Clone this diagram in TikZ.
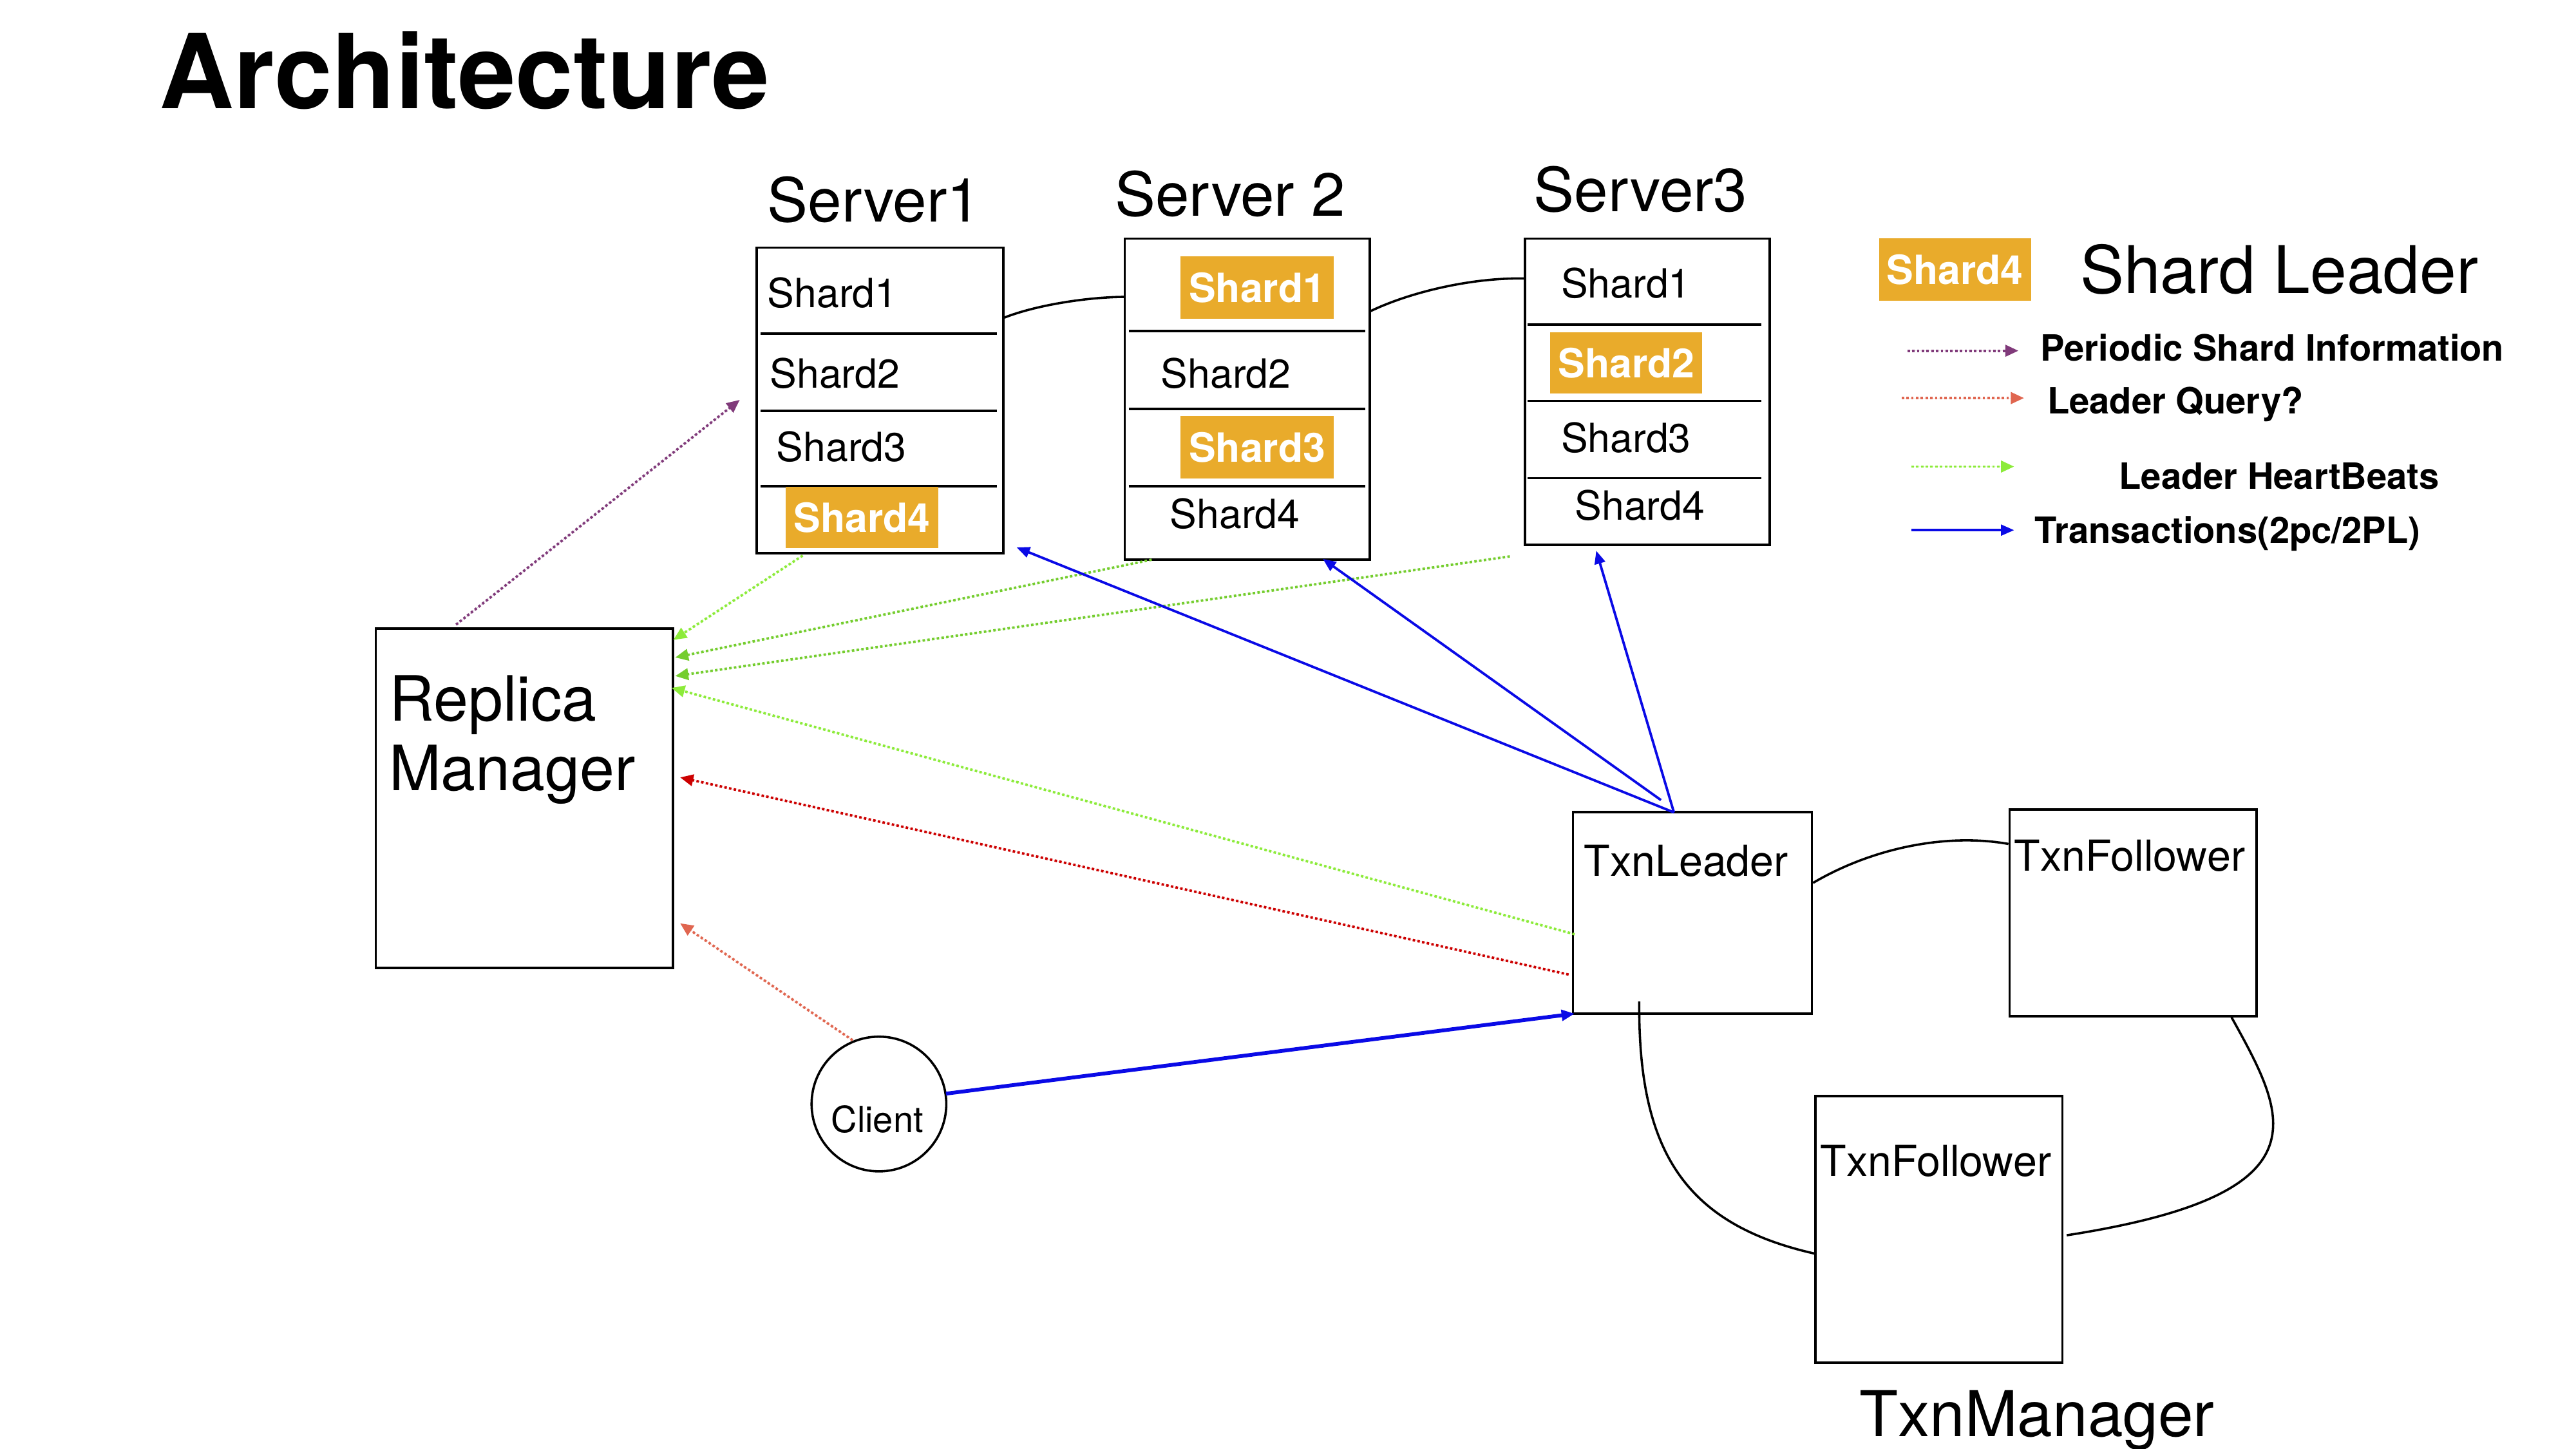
\documentclass[tikz,border=0pt]{standalone}
\usepackage{fontspec}
\setmainfont{TeX Gyre Heros}
\usetikzlibrary{arrows.meta,calc}
\definecolor{shardorange}{HTML}{E9AB2B}
\definecolor{ppurple}{HTML}{803A7A}
\definecolor{salmon}{HTML}{E06650}
\definecolor{qred}{HTML}{CC0000}
\definecolor{lgreen}{HTML}{8CEB3A}
\definecolor{dgreen}{HTML}{74CD2E}
\definecolor{tblue}{HTML}{0A0AE6}
\newcommand{\fs}[1]{\fontsize{#1}{#1}\selectfont}
\tikzset{
  box/.style={draw, line width=1.4pt, anchor=north west, inner sep=0pt},
  sepline/.style={line width=1.4pt},
  txt/.style={inner sep=0pt, anchor=base west, font=\fs{24.5}},
  hl/.style={fill=shardorange, text=white, font=\bfseries\fs{24.5}, inner sep=0pt, anchor=north west, minimum width=93pt, minimum height=38pt},
  link/.style={line width=1.4pt},
  dotarrow/.style={line width=1.5pt, dash pattern=on 1.5pt off 1.4pt, -{Triangle[length=8pt,width=7pt]}},
  txarrow/.style={line width=1.5pt, draw=tblue, -{Triangle[length=8pt,width=6.5pt]}},
  legtxt/.style={inner sep=0pt, anchor=base west, font=\bfseries\fs{22}}
}
\begin{document}
\begin{tikzpicture}[x=1pt,y=-1pt]
\useasboundingbox (0,0) rectangle (1568,882);

% title
\node[inner sep=0pt, anchor=base west, font=\bfseries\fs{63}] (title) at (97,66) {Architecture};

% server labels
\node[inner sep=0pt, anchor=base west, font=\fs{37}] (l1) at (467,135) {Server1};
\node[inner sep=0pt, anchor=base west, font=\fs{37}] (l2) at (678.5,131.5) {Server 2};
\node[inner sep=0pt, anchor=base west, font=\fs{37}] (l3) at (933.5,128.7) {Server3};

% server boxes
\node[box, minimum width=150pt, minimum height=186pt] (s1) at (460,150) {};
\node[box, minimum width=149pt, minimum height=195.5pt] (s2) at (684,144.5) {};
\node[box, minimum width=149pt, minimum height=186.5pt] (s3) at (927.5,144.5) {};

% separators
\draw[sepline] (463,203) -- (607,203) (463,250) -- (607,250) (463,296) -- (607,296);
\draw[sepline] (687,201.5) -- (831,201.5) (687,249) -- (831,249) (687,296) -- (831,296);
\draw[sepline] (930,197.5) -- (1072,197.5) (930,244) -- (1072,244) (930,291) -- (1072,291);

% server1 shards
\node[txt] (s1a) at (467,187) {Shard1};
\node[txt] (s1b) at (468.5,236) {Shard2};
\node[txt] (s1c) at (472.5,281) {Shard3};
\node[hl, minimum height=37.5pt] (s1d) at (478,296) {Shard4};
% server2 shards
\node[hl] (s2a) at (718.5,156) {Shard1};
\node[txt] (s2b) at (706.5,236) {Shard2};
\node[hl] (s2c) at (718.5,253) {Shard3};
\node[txt] (s2d) at (712,321.7) {Shard4};
% server3 shards
\node[txt] (s3a) at (950,181.4) {Shard1};
\node[hl, minimum width=92.5pt, minimum height=37.5pt] (s3b) at (943.5,202) {Shard2};
\node[txt] (s3c) at (950,275.3) {Shard3};
\node[txt] (s3d) at (958.5,316.6) {Shard4};

% links between servers
\draw[link] (s1.east |- 0,193.3) .. controls (630,186) and (660,181) .. (s2.west |- 0,180.7);
\draw[link] (s2.east |- 0,189.3) .. controls (858,178) and (895,169) .. (s3.west |- 0,169.5);

% legend
\node[hl, minimum width=92.5pt] (legbox) at (1143.5,145) {Shard4};
\node[inner sep=0pt, anchor=base west, font=\fs{40}] (legtitle) at (1266,178.6) {Shard Leader};
\coordinate (pa1) at (1161,213.5); \coordinate (pa2) at (1228.6,213.5);
\coordinate (qa1) at (1157.5,242.3); \coordinate (qa2) at (1232,242.3);
\coordinate (ga1) at (1163.4,284); \coordinate (ga2) at (1226,284);
\coordinate (ba1) at (1163.4,322.7); \coordinate (ba2) at (1226,322.7);
\draw[dotarrow, draw=ppurple, fill=ppurple] (pa1) -- (pa2);
\draw[dotarrow, draw=salmon, fill=salmon] (qa1) -- (qa2);
\draw[dotarrow, draw=lgreen, fill=lgreen] (ga1) -- (ga2);
\draw[txarrow, fill=tblue] (ba1) -- (ba2);
\node[legtxt] (lt1) at (1242,219.6) {Periodic Shard Information};
\node[legtxt] (lt2) at (1246,252) {Leader Query?};
\node[legtxt] (lt3) at (1289.7,297.8) {Leader HeartBeats};
\node[legtxt] (lt4) at (1238.4,330.8) {Transactions(2pc/2PL)};

% replica manager
\node[box, minimum width=181pt, minimum height=206.5pt] (rm) at (228,382) {};
\node[inner sep=0pt, anchor=base west, font=\fs{38}] (rmt1) at (236.6,438.7) {Replica};
\node[inner sep=0pt, anchor=base west, font=\fs{38}] (rmt2) at (236.6,481) {Manager};

% client
\node[draw, circle, line width=1.4pt, minimum size=82pt, inner sep=0pt] (client) at (535,672) {};
\node[inner sep=0pt, anchor=base, font=\fs{22}] (clientlbl) at (534,689.5) {Client};

% txn manager
\node[box, minimum width=145.5pt, minimum height=122.8pt] (tl) at (956.7,493.5) {};
\node[inner sep=0pt, anchor=base west, font=\fs{26}] (tlt) at (964,533.4) {TxnLeader};
\node[box, minimum width=150.3pt, minimum height=125.8pt] (tf1) at (1222.5,492) {};
\node[inner sep=0pt, anchor=base west, font=\fs{26}] (tf1t) at (1225.8,530.3) {TxnFollower};
\node[box, minimum width=150.3pt, minimum height=162.3pt] (tf2) at (1104.3,666.4) {};
\node[inner sep=0pt, anchor=base west, font=\fs{26}] (tf2t) at (1107.8,715.8) {TxnFollower};
\node[inner sep=0pt, anchor=base west, font=\fs{38.5}] (tm) at (1131.6,874.5) {TxnManager};

% txn links
\draw[link] (tl.east |- 0,537.4) .. controls (1140,516) and (1185,507) .. (tf1.west |- 0,513.7);
\draw[link] (997.8,609.6) .. controls (997,700) and (1025,745) .. (tf2.west |- 0,763);
\draw[link] (tf1.south -| 1358.3,0) .. controls (1392,680) and (1418,727) .. (1258,751.9);

% arrow endpoints
\coordinate (p1) at (277.6,380.2); \coordinate (p2) at (450.3,243.4);
\coordinate (g1a) at (488.6,338.2); \coordinate (g1b) at (409.9,389.5);
\coordinate (g2a) at (701,340.7);   \coordinate (g2b) at (411,400.2);
\coordinate (g3a) at (919,338.7);   \coordinate (g3b) at (411,411.5);
\coordinate (g4a) at (958.5,568.7); \coordinate (g4b) at (408.8,418.7);
\coordinate (r1a) at (954.8,593.2); \coordinate (r1b) at (414,473.2);
\coordinate (c1a) at (519,633.2);   \coordinate (c1b) at (414,562);
\coordinate (b0a) at (575.8,665.7); \coordinate (b0b) at (958.5,617);
\coordinate (tltop) at (1018.9,494.5); \coordinate (tltop2) at (1011,487);
\coordinate (b1b) at (618.8,333.2);
\coordinate (b2b) at (805.2,340.2);
\coordinate (b3b) at (971.6,335.2);

% arrows
\draw[dotarrow, draw=ppurple, fill=ppurple] (p1) -- (p2);
\draw[dotarrow, draw=lgreen, fill=lgreen] (g1a) -- (g1b);
\draw[dotarrow, draw=dgreen, fill=dgreen] (g2a) -- (g2b);
\draw[dotarrow, draw=dgreen, fill=dgreen] (g3a) -- (g3b);
\draw[dotarrow, draw=lgreen, fill=lgreen] (g4a) -- (g4b);
\draw[dotarrow, draw=qred, fill=qred] (r1a) -- (r1b);
\draw[dotarrow, draw=salmon, fill=salmon] (c1a) -- (c1b);
\draw[txarrow, fill=tblue, line width=2.3pt] (b0a) -- (b0b);
\draw[txarrow, fill=tblue] (tltop) -- (b1b);
\draw[txarrow, fill=tblue] (tltop2) -- (b2b);
\draw[txarrow, fill=tblue] (tltop) -- (b3b);
\end{tikzpicture}
\end{document}
